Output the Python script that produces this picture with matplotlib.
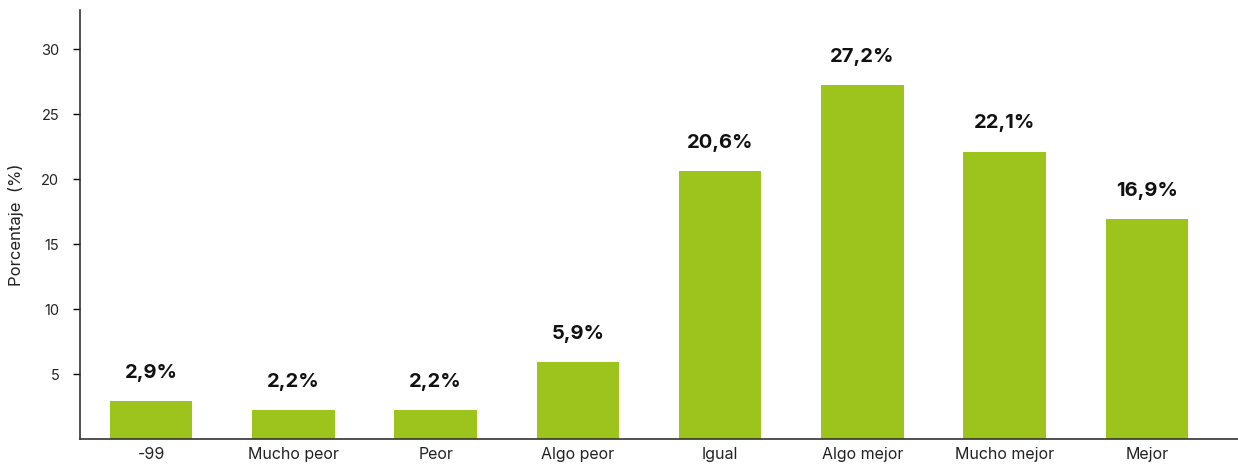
import matplotlib
matplotlib.use('Agg')
import matplotlib.pyplot as plt

# respuestas y porcentajes
categorias = ['-99', 'Mucho peor', 'Peor', 'Algo peor', 'Igual',
              'Algo mejor', 'Mucho mejor', 'Mejor']
porcentajes = [2.9, 2.2, 2.2, 5.9, 20.6, 27.2, 22.1, 16.9]
yticks = [5, 10, 15, 20, 25, 30]

plt.rcParams['font.family'] = ['Inter', 'DejaVu Sans']

fig = plt.figure(figsize=(12.38, 4.69), dpi=100)
ax = fig.add_axes([80 / 1238, 30 / 469, 1 - 80 / 1238, 429 / 469])

x = range(len(categorias))
bars = ax.bar(x, porcentajes, width=0.58, color='#9dc41d')

for b, v in zip(bars, porcentajes):
    etiqueta = ('%.1f' % v).replace('.', ',') + '%'
    ax.annotate(etiqueta, (b.get_x() + b.get_width() / 2, v),
                xytext=(0, 14), textcoords='offset points',
                ha='center', va='bottom', fontsize=14.5, fontweight='bold',
                color='#111111')

ax.set_xlim(-0.5, 7.64)
ax.set_ylim(0, 33)
ax.set_xticks(list(x))
ax.set_xticklabels(categorias, fontsize=11.5, color='#222222')
ax.set_yticks(yticks)
ax.set_yticklabels([str(t) for t in yticks], fontsize=10.5, color='#222222')
ax.tick_params(axis='x', length=0, pad=6)
ax.tick_params(axis='y', length=5, width=1, pad=10)
ax.set_ylabel('Porcentaje  (%)', fontsize=12, labelpad=12, color='#222222')

for s in ['top', 'right']:
    ax.spines[s].set_visible(False)
for s in ['left', 'bottom']:
    ax.spines[s].set_color('#333333')
    ax.spines[s].set_linewidth(1.2)

fig.savefig('out.png', dpi=100)
